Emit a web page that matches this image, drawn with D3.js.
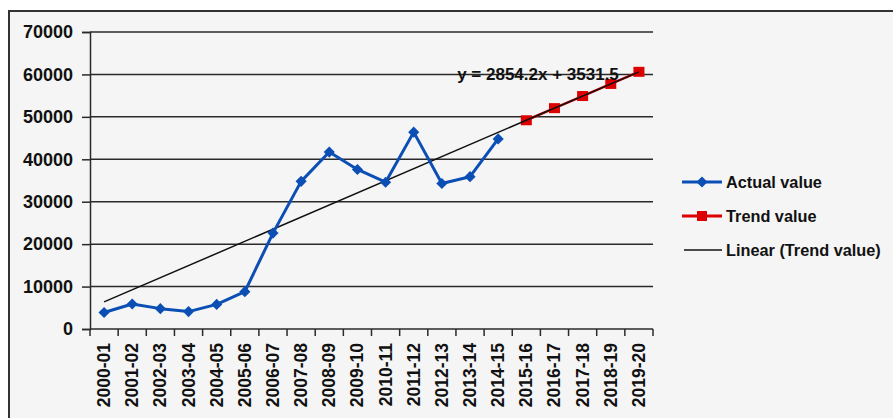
<!DOCTYPE html>
<html><head><meta charset="utf-8">
<script src="https://cdn.jsdelivr.net/npm/d3@7"></script>
<style>html,body{margin:0;padding:0;background:#fff;}svg{display:block;}</style>
</head><body>
<svg id="c" width="893" height="418"></svg>
<script>
const categories = ["2000-01","2001-02","2002-03","2003-04","2004-05","2005-06","2006-07","2007-08","2008-09","2009-10","2010-11","2011-12","2012-13","2013-14","2014-15","2015-16","2016-17","2017-18","2018-19","2019-20"];
const actualValues = [3900,5900,4800,4100,5800,8800,22600,34800,41700,37600,34600,46400,34300,35900,44800];
const trendCategories = ["2015-16","2016-17","2017-18","2018-19","2019-20"];
const trendValues = [49198,52052,54907,57761,60615];
const trendSlope = 2854.2;
const trendIntercept = 3531.5;
const yTicks = [0,10000,20000,30000,40000,50000,60000,70000];
const legendLabels = ["Actual value","Trend value","Linear (Trend value)"];
const equationLabel = "y = 2854.2x + 3531.5";

const svg = d3.select("#c");
const FONT = "'Liberation Sans', Arial, sans-serif";
svg.append("rect").attr("x",9).attr("y",11).attr("width",900).attr("height",420)
  .attr("fill","#f5f5f5").attr("stroke","#333").attr("stroke-width",2);

const x = d3.scaleBand().domain(categories).range([90,653]).padding(0);
const y = d3.scaleLinear().domain([0,70000]).range([329,32]);

// gridlines
svg.append("g").selectAll("line").data(yTicks.filter(d=>d>0)).join("line")
  .attr("x1",90).attr("x2",653).attr("y1",d=>y(d)).attr("y2",d=>y(d))
  .attr("stroke","#2a2a2a").attr("stroke-width",1.5);

// y axis
const ya = svg.append("g").attr("transform","translate(90,0)")
  .call(d3.axisLeft(y).tickValues(yTicks).tickSize(8).tickPadding(9).tickFormat(d3.format("d")));
ya.select(".domain").attr("stroke","#2a2a2a").attr("stroke-width",1.5);
ya.selectAll(".tick line").attr("stroke","#2a2a2a").attr("stroke-width",1.5);
ya.selectAll("text").attr("font-family",FONT).attr("font-weight","bold").attr("font-size",18).attr("fill","#111");

// x axis with ticks at boundaries
const xa = svg.append("g").attr("transform","translate(0,329)");
xa.append("line").attr("x1",90).attr("x2",653).attr("stroke","#2a2a2a").attr("stroke-width",1.5);
xa.selectAll("line.t").data(categories.concat(["__end"])).join("line").attr("class","t")
  .attr("x1",(d,i)=>90+i*x.bandwidth()).attr("x2",(d,i)=>90+i*x.bandwidth())
  .attr("y1",0).attr("y2",7).attr("stroke","#2a2a2a").attr("stroke-width",1.5);
xa.selectAll("text").data(categories).join("text")
  .attr("transform",d=>`translate(${x(d)+x.bandwidth()/2+6},14) rotate(-90)`)
  .attr("text-anchor","end").attr("font-family",FONT).attr("font-weight","bold")
  .attr("font-size",17.5).attr("fill","#111").text(d=>d);

const cx = d=>x(d)+x.bandwidth()/2;

// trend series (red line + squares)
const trendData = trendCategories.map((c,i)=>({c,v:trendValues[i]}));
svg.append("path").datum(trendData)
  .attr("d",d3.line().x(d=>cx(d.c)).y(d=>y(d.v)))
  .attr("fill","none").attr("stroke","#dd0000").attr("stroke-width",2.5);

// linear trendline
const lineData = categories.map((c,i)=>({c,v:trendSlope*(i+1)+trendIntercept}));
const ends = [lineData[0], lineData[lineData.length-1]];
svg.append("g").selectAll("rect").data(trendData).join("rect")
  .attr("x",d=>cx(d.c)-5.5).attr("y",d=>y(d.v)-5).attr("width",11).attr("height",10)
  .attr("fill","#dd0000");
svg.append("path").datum(ends)
  .attr("d",d3.line().x(d=>cx(d.c)).y(d=>y(d.v)))
  .attr("fill","none").attr("stroke","#111").attr("stroke-width",1.5);

// actual series
const actualData = actualValues.map((v,i)=>({c:categories[i],v}));
svg.append("path").datum(actualData)
  .attr("d",d3.line().x(d=>cx(d.c)).y(d=>y(d.v)))
  .attr("fill","none").attr("stroke","#0b4fb5").attr("stroke-width",3).attr("stroke-linejoin","round");
const diamond = d3.symbol().type(d3.symbolSquare).size(62);
svg.append("g").selectAll("path").data(actualData).join("path")
  .attr("d",diamond).attr("transform",d=>`translate(${cx(d.c)},${y(d.v)}) rotate(45)`)
  .attr("fill","#0b4fb5");

// equation
svg.append("text").attr("x",538).attr("y",80).attr("text-anchor","middle")
  .attr("font-family",FONT).attr("font-weight","bold").attr("font-size",17)
  .attr("fill","#111").text(equationLabel);

// legend
const lg = svg.append("g");
const ly = [182,216,250];
const lcol = ["#0b4fb5","#dd0000","#111"];
legendLabels.forEach((t,i)=>{
  const g = lg.append("g").attr("transform",`translate(0,${ly[i]})`);
  g.append("line").attr("x1",i==2?684:682).attr("x2",722).attr("y1",0).attr("y2",0)
    .attr("stroke",lcol[i]).attr("stroke-width",i==2?1.5:3);
  if(i==0) g.append("path").attr("d",diamond).attr("transform","translate(702,0) rotate(45)").attr("fill",lcol[0]);
  if(i==1) g.append("rect").attr("x",697).attr("y",-5).attr("width",10).attr("height",10).attr("fill",lcol[1]);
  g.append("text").attr("x",726).attr("y",6).attr("font-family",FONT).attr("font-weight","bold")
    .attr("font-size",16.3).attr("fill","#111").text(t);
});
</script>
</body></html>
